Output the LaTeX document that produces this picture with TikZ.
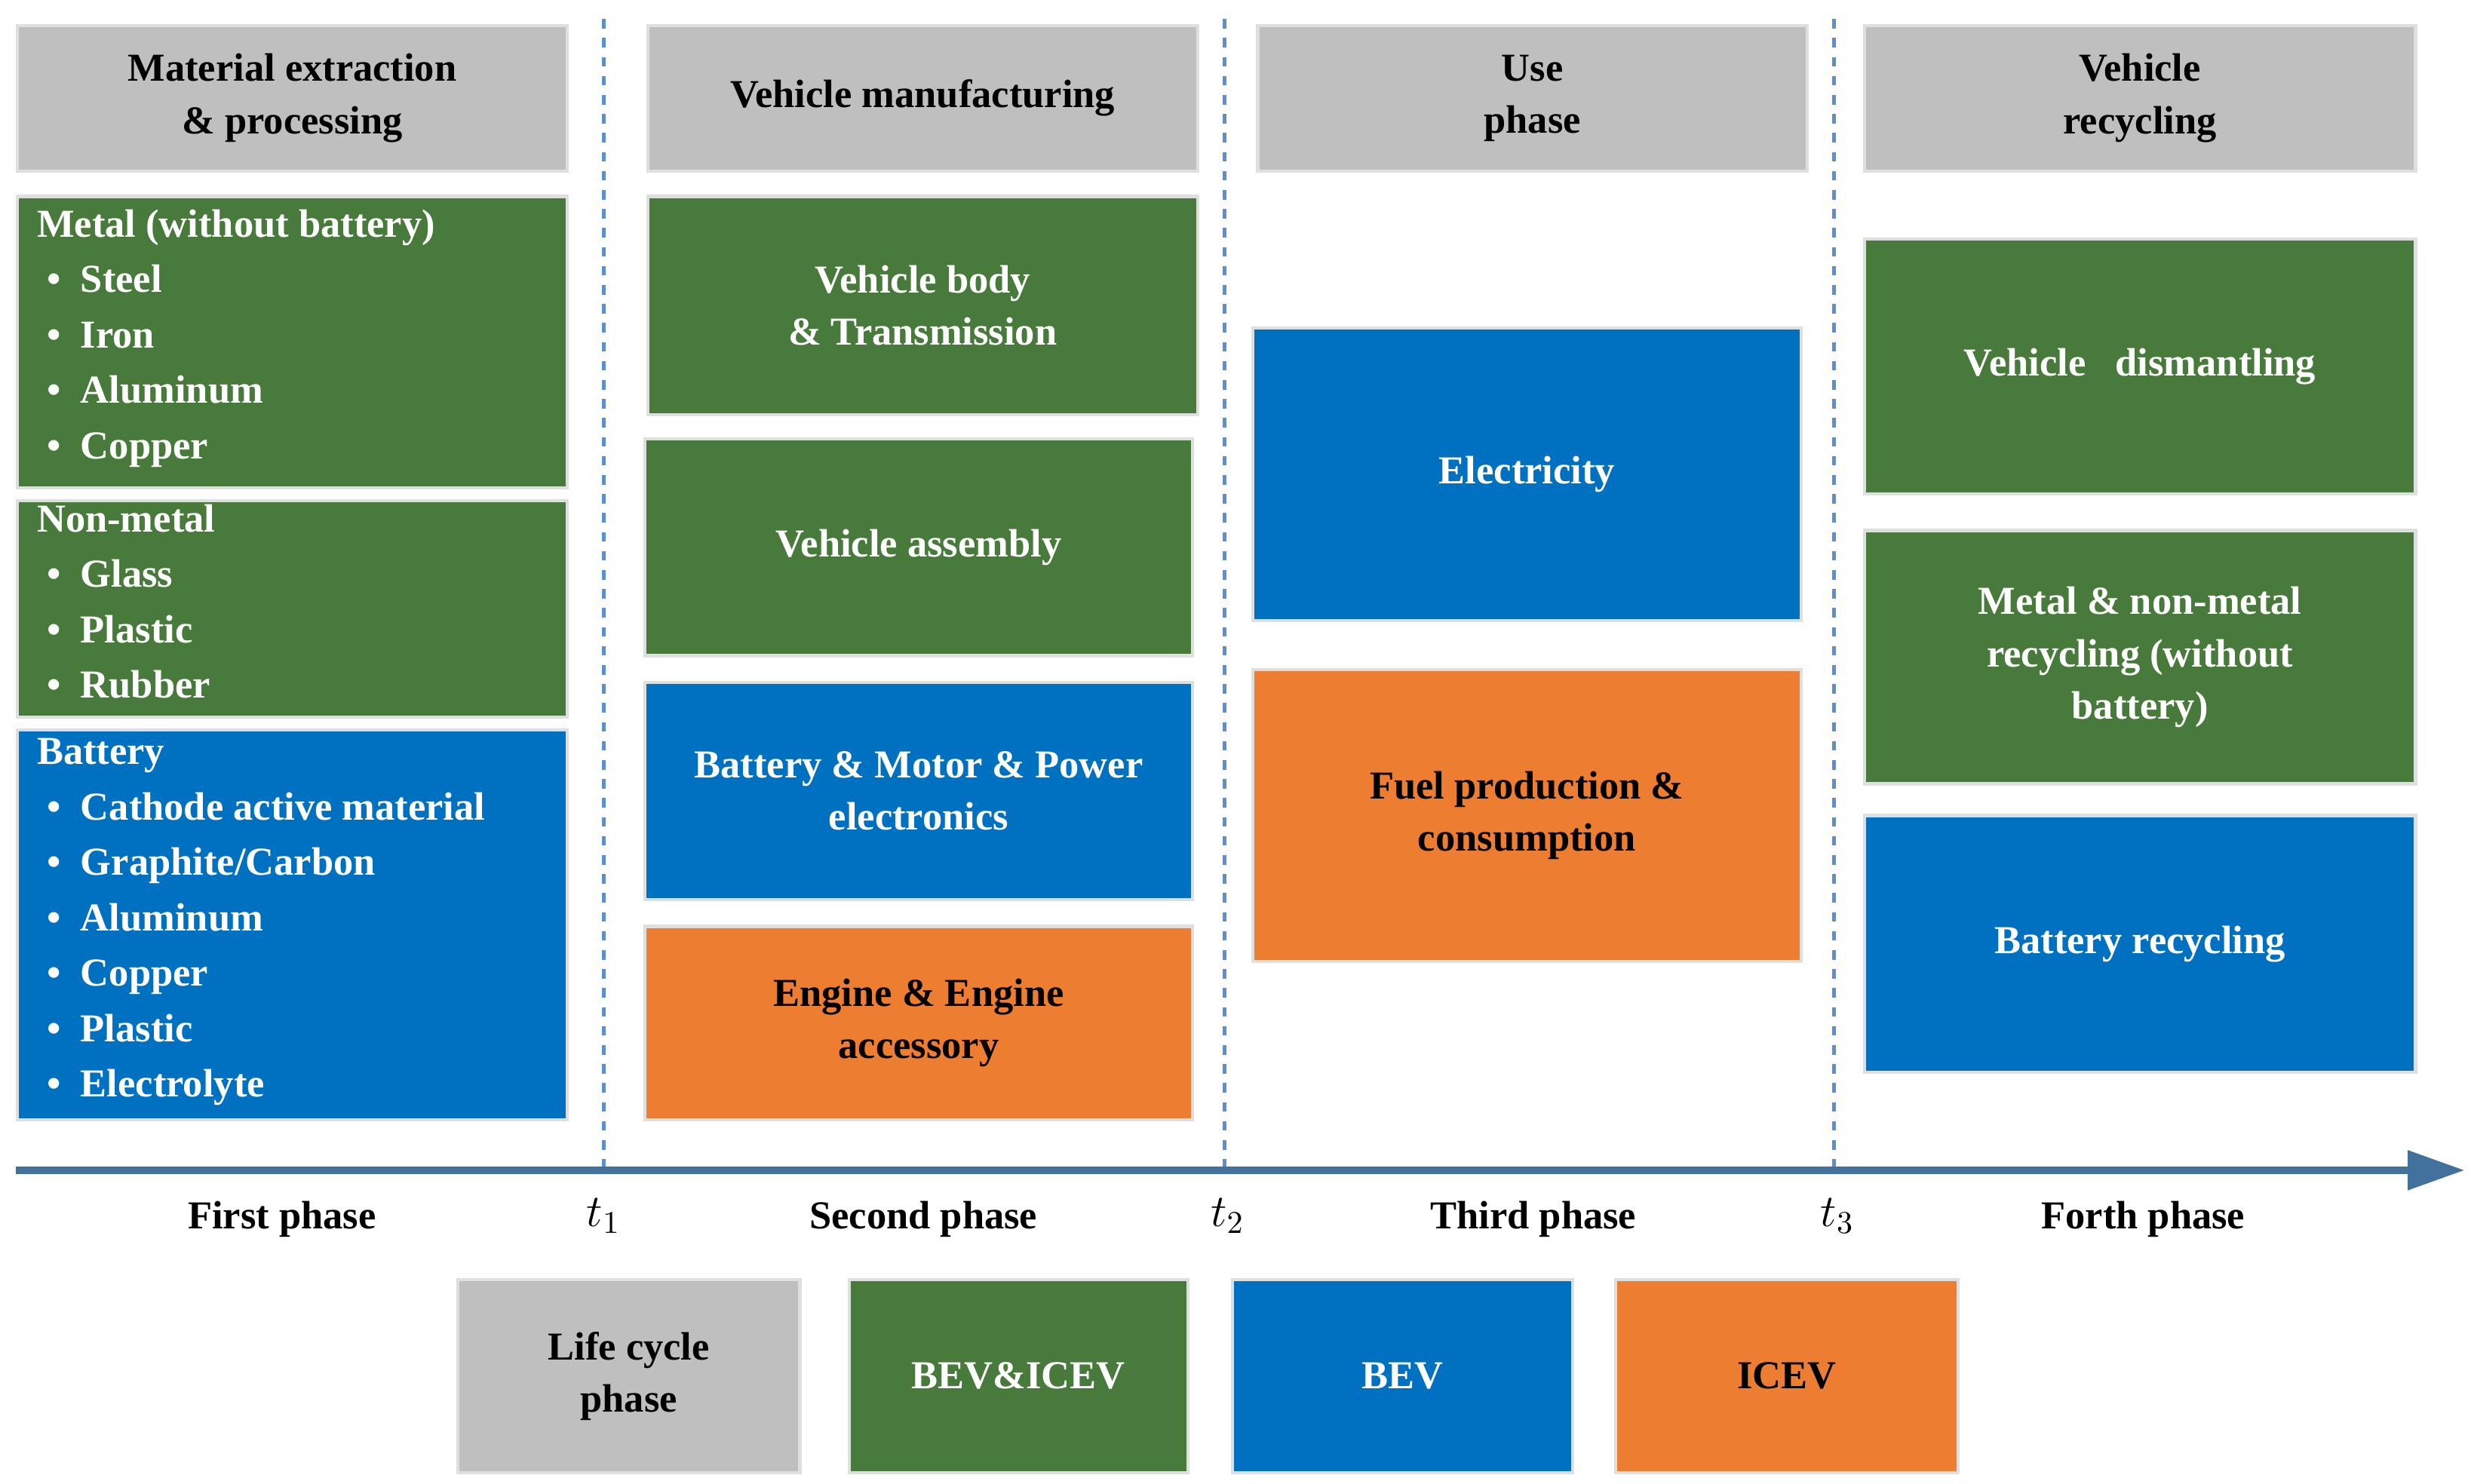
\documentclass[tikz,border=0pt]{standalone}
\usepackage{fontspec}
\setmainfont{Liberation Serif}
\usetikzlibrary{arrows.meta}
\definecolor{gr}{HTML}{487B3B}
\definecolor{bl}{HTML}{0070C0}
\definecolor{org}{HTML}{ED7D31}
\definecolor{gy}{HTML}{BFBFBF}
\definecolor{dashc}{HTML}{5B8FD0}
\definecolor{ax}{HTML}{41719C}
\begin{document}
\begin{tikzpicture}[x=0.5pt,y=-0.5pt,
  f/.style={font=\bfseries\fontsize{12.5}{16.5}\selectfont},
  bx/.style={draw=gray!25,line width=1pt,f,align=center,inner sep=0pt},
  G/.style={bx,fill=gr,text=white},
  B/.style={bx,fill=bl,text=white},
  O/.style={bx,fill=org,text=black},
  Y/.style={bx,fill=gy,text=black},
  lst/.style={anchor=north west,align=left,inner sep=0pt,text=white,font=\bfseries\fontsize{12.5}{17.5}\selectfont},
  lab/.style={font=\bfseries\fontsize{12.5}{15}\selectfont}]
\useasboundingbox (0,0) rectangle (1560,937);
\newcommand{\bbox}[6]{\draw[#1] (#2,#3) rectangle (#4,#5) node[midway,#1,draw=none,fill=none] {#6};}
% headers
\bbox{Y}{11}{16}{358}{108}{Material extraction\\\& processing}
\bbox{Y}{409}{16}{756}{108}{Vehicle manufacturing}
\bbox{Y}{794}{16}{1141}{108}{Use\\phase}
\bbox{Y}{1177}{16}{1525}{108}{Vehicle\\recycling}
% column 1
\draw[G] (11,124) rectangle (358,308);
\node[lst] (m) at (23,132) {Metal (without battery)\\\ \textbullet\ \ Steel\\\ \textbullet\ \ Iron\\\ \textbullet\ \ Aluminum\\\ \textbullet\ \ Copper};
\draw[G] (11,316) rectangle (358,453);
\node[lst] (n) at (23,318) {Non-metal\\\ \textbullet\ \ Glass\\\ \textbullet\ \ Plastic\\\ \textbullet\ \ Rubber};
\draw[B] (11,461) rectangle (358,707);
\node[lst] (b) at (23,466) {Battery\\\ \textbullet\ \ Cathode active material\\\ \textbullet\ \ Graphite/Carbon\\\ \textbullet\ \ Aluminum\\\ \textbullet\ \ Copper\\\ \textbullet\ \ Plastic\\\ \textbullet\ \ Electrolyte};
% column 2
\bbox{G}{409}{124}{756}{262}{Vehicle body\\\& Transmission}
\bbox{G}{407}{277}{753}{414}{Vehicle assembly}
\bbox{B}{407}{431}{753}{568}{Battery \& Motor \& Power\\electronics}
\bbox{O}{407}{585}{753}{707}{Engine \& Engine\\accessory}
% column 3
\bbox{B}{791}{207}{1137}{392}{Electricity}
\bbox{O}{791}{423}{1137}{607}{Fuel production \&\\consumption}
% column 4
\bbox{G}{1177}{151}{1525}{312}{Vehicle\ \ \ dismantling}
\bbox{G}{1177}{335}{1525}{495}{Metal \& non-metal\\recycling (without\\battery)}
\bbox{B}{1177}{515}{1525}{677}{Battery recycling}
% dashed
\foreach \x in {381,773,1158} \draw[dashc,dashed,line width=1.2pt] (\x,12) -- (\x,737);
% axis
\coordinate (a0) at (10,739); \coordinate (a1) at (1556,739);
\draw[ax,line width=2.5pt,-{Triangle[length=18pt,width=12pt]}] (a0) -- (a1);
\node[lab] (p1) at (178,770) {First phase};
\node[lab] (p2) at (583,770) {Second phase};
\node[lab] (p3) at (968,770) {Third phase};
\node[lab] (p4) at (1353,770) {Forth phase};
\node[font=\fontsize{14}{16}\selectfont] (t1) at (381,768) {$t_1$};
\node[font=\fontsize{14}{16}\selectfont] (t2) at (775,768) {$t_2$};
\node[font=\fontsize{14}{16}\selectfont] (t3) at (1160,768) {$t_3$};
% legend
\bbox{Y}{289}{808}{505}{930}{Life cycle\\phase}
\bbox{G}{536}{808}{750}{930}{BEV\&ICEV}
\bbox{B}{778}{808}{993}{930}{BEV}
\bbox{O}{1020}{808}{1236}{930}{ICEV}
\end{tikzpicture}
\end{document}
